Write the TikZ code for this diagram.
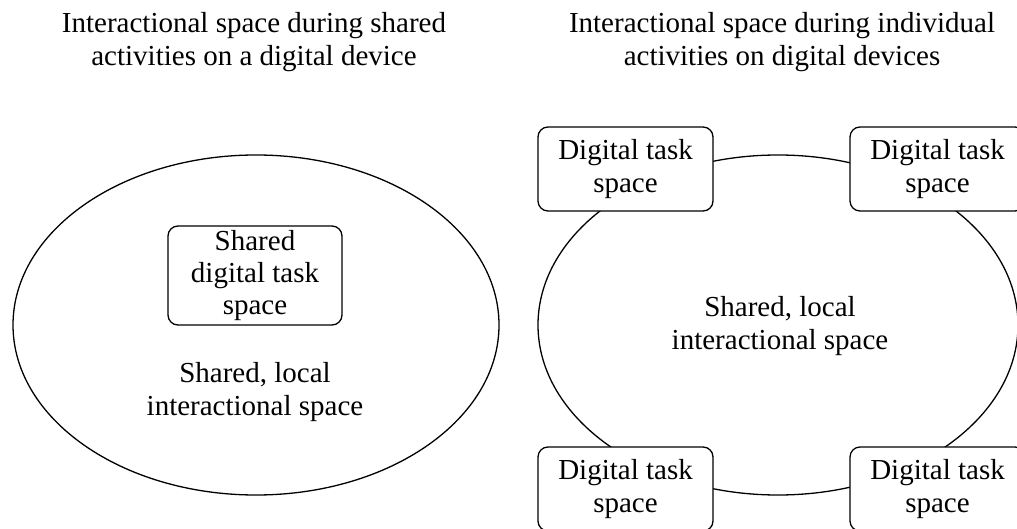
\documentclass[tikz,border=0pt]{standalone}
\usepackage{fontspec}
\setmainfont{Liberation Serif}
\usetikzlibrary{shapes.geometric}
\tikzset{
  space/.style={draw, ellipse, line width=1.3pt, inner sep=0pt,
    minimum width=#1, minimum height=340pt},
  taskbox/.style={draw, fill=white, line width=1.3pt, rounded corners=10pt,
    align=center, inner sep=0pt, minimum width=175pt, minimum height=84pt},
  label/.style={align=center, inner sep=0pt},
  every node/.append style={font=\fontsize{29}{33.5}\selectfont}
}
\begin{document}
\begin{tikzpicture}[x=1pt, y=-1pt]
  \useasboundingbox (0,0) rectangle (1017,529);
  \clip (0,0) rectangle (1017,529);

  % left panel: one shared device
  \node[label] (titleL) at (254,42) {Interactional space during shared\\activities on a digital device};
  \node[space=486pt] (areaL) at (256,325) {};
  \node[taskbox, minimum width=174pt, minimum height=99pt] (shared) at (255,275.5)
    {Shared\\[-1.5pt]digital task\\[-1.5pt]space};
  \node[label] (localL) at (255,392) {Shared, local\\interactional space};

  % right panel: individual devices around the shared space
  \node[label] (titleR) at (782,42) {Interactional space during individual\\activities on digital devices};
  \node[space=480pt] (areaR) at (778,325) {};
  \node[label] (localR) at (780,326) {Shared, local\\interactional space};
  \node[taskbox] (tl) at (625.5,169) {Digital task\\space};
  \node[taskbox] (tr) at (937.5,169) {Digital task\\space};
  \node[taskbox] (bl) at (625.5,489) {Digital task\\space};
  \node[taskbox] (br) at (937.5,489) {Digital task\\space};
\end{tikzpicture}
\end{document}
